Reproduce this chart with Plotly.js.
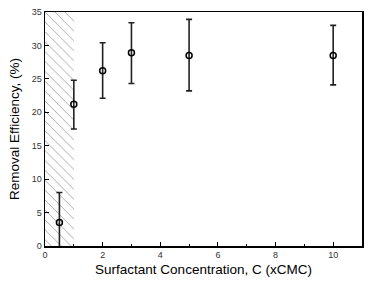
<!DOCTYPE html>
<html>
<head>
<meta charset="utf-8">
<script src="https://cdn.plot.ly/plotly-3.0.1.min.js"></script>
<style>html,body{margin:0;padding:0;background:#fff;}#chart{width:390px;height:282px;}</style>
</head>
<body>
<div id="chart"></div>
<script>
// Data
var concentration = [0.5, 1, 2, 3, 5, 10];
var efficiency = [3.5, 21.2, 26.2, 28.9, 28.5, 28.5];
var errorUpper = [4.5, 3.6, 4.2, 4.5, 5.4, 4.5];
var errorLower = [4.5, 3.7, 4.1, 4.6, 5.3, 4.4];
var hatchRegionX = [0, 1];      // below CMC region (hatched)
var hatchRegionTop = 35;
var xTickVals = [0, 2, 4, 6, 8, 10];
var yTickVals = [0, 5, 10, 15, 20, 25, 30, 35];

var hatch = {
  type: 'bar',
  x: [(hatchRegionX[0] + hatchRegionX[1]) / 2],
  y: [hatchRegionTop],
  width: [hatchRegionX[1] - hatchRegionX[0]],
  marker: {
    color: 'white',
    line: {width: 0},
    pattern: {shape: '\\', fgcolor: '#7a7a7a', bgcolor: 'white', size: 7, solidity: 0.09}
  },
  hoverinfo: 'skip',
  showlegend: false
};

var pts = {
  type: 'scatter',
  mode: 'markers',
  x: concentration,
  y: efficiency,
  error_y: {type: 'data', symmetric: false, array: errorUpper, arrayminus: errorLower,
            color: '#222', thickness: 1.6, width: 3},
  marker: {symbol: 'circle-open', size: 6, color: '#000', line: {width: 1.5, color: '#000'}},
  showlegend: false
};

var layout = {
  width: 390, height: 282,
  margin: {l: 45, r: 28, t: 12, b: 36},
  paper_bgcolor: 'white', plot_bgcolor: 'white',
  font: {family: 'Liberation Sans, Arial, sans-serif', color: '#000'},
  bargap: 0,
  xaxis: {
    range: [0, 11], tickvals: xTickVals, ticks: 'inside', ticklen: 4, tickwidth: 1,
    tickcolor: '#000',
    minor: {dtick: 1, tick0: 0, ticks: 'inside', ticklen: 2, tickcolor: '#000', showgrid: false},
    showgrid: false, zeroline: false, showline: true, linecolor: '#000', linewidth: 1.5,
    mirror: true, tickfont: {size: 9, color: '#333'},
    title: {text: 'Surfactant Concentration, C (xCMC)', font: {size: 13.5}, standoff: 5}
  },
  yaxis: {
    range: [0, 35], tickvals: yTickVals, ticks: 'inside', ticklen: 4, tickwidth: 1,
    tickcolor: '#000',
    showgrid: false, zeroline: false, showline: true, linecolor: '#000', linewidth: 1.5,
    mirror: true, tickfont: {size: 9, color: '#333'},
    title: {text: 'Removal Efficiency, (%)', font: {size: 13.5}, standoff: 9}
  }
};

Plotly.newPlot('chart', [hatch, pts], layout, {staticPlot: true, displayModeBar: false});
</script>
</body>
</html>
